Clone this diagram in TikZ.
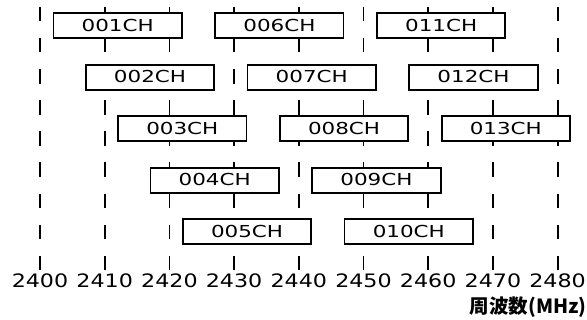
\documentclass[tikz,border=0pt]{standalone}
\usepackage{fontspec}
\setmainfont{DejaVu Sans}
\newfontfamily\tickfont[FakeStretch=1.2]{DejaVu Sans}
\newfontfamily\chfont[FakeStretch=1.3]{DejaVu Sans}
\newfontfamily\cjk{Noto Sans CJK JP}
\begin{document}
\begin{tikzpicture}[x=6.47pt,y=-1pt,
  gridline/.style={line width=1.8pt, dash pattern=on 14.5pt off 16.66pt},
  chbox/.style={draw, line width=1.8pt, fill=white, minimum width=128.4pt,
    minimum height=25pt, inner sep=0pt, font=\chfont\fontsize{16.5}{16.5}\selectfont},
  ticklabel/.style={inner sep=0pt, anchor=base, font=\tickfont\fontsize{18.5}{18.5}\selectfont},
  unitlabel/.style={inner sep=0pt, anchor=base east, font=\cjk\bfseries\fontsize{19.5}{19.5}\selectfont}]
\useasboundingbox (-6.1824,0) rectangle (84.544,320);
% grid lines
\foreach \i in {0,...,8}{
  \coordinate (t\i) at (\i*10,6.7);
  \coordinate (b\i) at (\i*10,270.5);
  \draw[gridline] (t\i) -- (b\i);
  \node[ticklabel] (l\i) at (\i*10,287.3) {24\i0};
}
% channel boxes
\foreach \n/\r in {1/1,2/2,3/3,4/4,5/5,6/1,7/2,8/3,9/4,10/5,11/1,12/2,13/3}{
  \node[chbox] (ch\n) at ({12+5*(\n-1)},{25.8+51.5*(\r-1)})
    {\raisebox{1.2pt}{\ifnum\n<10 00\n\else 0\n\fi CH}};
}
\node[unitlabel] (unit) at (84.5,314) {周波数(MHz)};
\end{tikzpicture}
\end{document}
